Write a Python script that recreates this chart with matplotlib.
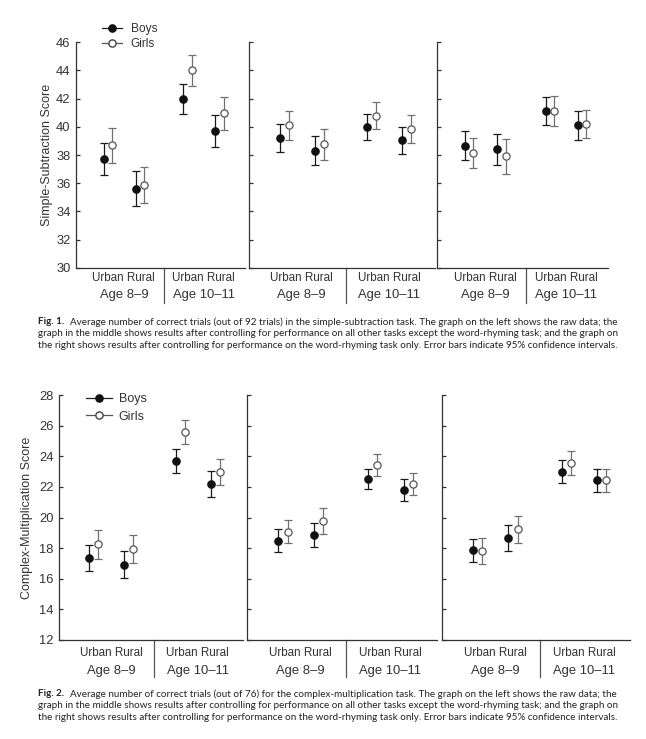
import numpy as np
import matplotlib
matplotlib.use("Agg")
import matplotlib.pyplot as plt
from matplotlib.lines import Line2D
from matplotlib.text import Annotation

plt.rcParams['font.family'] = ['Liberation Sans', 'DejaVu Sans']

# ---------------- data ----------------
groups = ["Urban", "Rural", "Urban", "Rural"]
age_labels = ["Age 8\u20139", "Age 10\u201311"]
series_labels = ["Boys", "Girls"]

# Simple subtraction (order: urban 8-9, rural 8-9, urban 10-11, rural 10-11)
sub_boys_raw = [37.7, 35.6, 42.0, 39.7]
sub_boys_raw_ci = [1.13, 1.23, 1.07, 1.13]
sub_girls_raw = [38.7, 35.85, 44.0, 40.95]
sub_girls_raw_ci = [1.25, 1.29, 1.10, 1.15]
sub_boys_ctrl = [39.2, 38.3, 40.0, 39.05]
sub_boys_ctrl_ci = [0.98, 1.03, 0.90, 0.96]
sub_girls_ctrl = [40.1, 38.75, 40.8, 39.85]
sub_girls_ctrl_ci = [1.04, 1.07, 0.95, 0.98]
sub_boys_rhy = [38.65, 38.4, 41.1, 40.1]
sub_boys_rhy_ci = [1.03, 1.10, 0.99, 1.05]
sub_girls_rhy = [38.15, 37.9, 41.1, 40.2]
sub_girls_rhy_ci = [1.09, 1.24, 1.06, 1.02]

# Complex multiplication
mul_boys_raw = [17.35, 16.92, 23.67, 22.2]
mul_boys_raw_ci = [0.84, 0.87, 0.78, 0.83]
mul_girls_raw = [18.25, 17.95, 25.58, 22.95]
mul_girls_raw_ci = [0.94, 0.93, 0.80, 0.84]
mul_boys_ctrl = [18.47, 18.84, 22.5, 21.77]
mul_boys_ctrl_ci = [0.75, 0.78, 0.65, 0.72]
mul_girls_ctrl = [19.08, 19.77, 23.4, 22.17]
mul_girls_ctrl_ci = [0.77, 0.88, 0.72, 0.71]
mul_boys_rhy = [17.86, 18.68, 23.0, 22.43]
mul_boys_rhy_ci = [0.76, 0.84, 0.74, 0.77]
mul_girls_rhy = [17.8, 19.23, 23.56, 22.43]
mul_girls_rhy_ci = [0.84, 0.89, 0.78, 0.75]

sub_ticks = [30, 32, 34, 36, 38, 40, 42, 44, 46]
mul_ticks = [12, 14, 16, 18, 20, 22, 24, 26, 28]

caption1 = ["Average number of correct trials (out of 92 trials) in the simple-subtraction task. The graph on the left shows the raw data; the",
            "graph in the middle shows results after controlling for performance on all other tasks except the word-rhyming task; and the graph on",
            "the right shows results after controlling for performance on the word-rhyming task only. Error bars indicate 95% confidence intervals."]
caption2 = ["Average number of correct trials (out of 76) for the complex-multiplication task. The graph on the left shows the raw data; the",
            "graph in the middle shows results after controlling for performance on all other tasks except the word-rhyming task; and the graph on",
            "the right shows results after controlling for performance on the word-rhyming task only. Error bars indicate 95% confidence intervals."]

# ---------------- layout ----------------
W, H = 646, 739
fig = plt.figure(figsize=(W / 100, H / 100), dpi=100)

BOY_C = "#1a1a1a"
GIRL_C = "#707070"
SPINE_C = "#333333"
pos = np.array([0, 1, 2.5, 3.5])
off = 0.13
PX = 0.72  # points per pixel


def add_axes_px(l, r, top, bottom):
    return fig.add_axes([l / W, 1 - bottom / H, (r - l) / W, (bottom - top) / H])


def draw_panel(ax, boys, boys_ci, girls, girls_ci, ticks, show_labels,
               ul_off, age_off, div_len, ylabel=None, ylabel_x=None):
    ax.errorbar(pos - off, boys, yerr=boys_ci, fmt='o', color=BOY_C, ecolor=BOY_C,
                elinewidth=0.9, capsize=2.6, capthick=0.9, markersize=5.2,
                markerfacecolor="#111111", markeredgecolor="#111111", zorder=3)
    ax.errorbar(pos + off, girls, yerr=girls_ci, fmt='o', color=GIRL_C, ecolor=GIRL_C,
                elinewidth=0.9, capsize=2.6, capthick=0.9, markersize=5.2,
                markerfacecolor="white", markeredgecolor="#555555", markeredgewidth=0.9,
                zorder=4)
    ax.set_xlim(-1.0, 4.3)
    ax.set_ylim(ticks[0], ticks[-1])
    ax.set_yticks(ticks)
    ax.set_xticks([])
    for s in ["top", "right"]:
        ax.spines[s].set_visible(False)
    for s in ["left", "bottom"]:
        ax.spines[s].set_color(SPINE_C)
        ax.spines[s].set_linewidth(0.9)
    ax.tick_params(axis='y', direction='in', length=3, width=0.9, color=SPINE_C,
                   pad=4, labelsize=9.3, labelcolor="#333333", labelleft=show_labels)
    # category labels
    for c, age in zip([0.5, 3.0], age_labels):
        ax.annotate("Urban Rural", xy=(c, 0), xycoords=('data', 'axes fraction'),
                    xytext=(0, -ul_off * PX), textcoords='offset points',
                    ha='center', va='center', fontsize=8.4, color="#333333",
                    annotation_clip=False)
        ax.annotate(age, xy=(c, 0), xycoords=('data', 'axes fraction'),
                    xytext=(0, -age_off * PX), textcoords='offset points',
                    ha='center', va='center', fontsize=9.4, color="#333333",
                    annotation_clip=False)
    # divider between age groups
    frac = div_len / (ax.get_position().height * H)
    ax.plot([1.75, 1.75], [0, -frac], transform=ax.get_xaxis_transform(),
            color="#555555", lw=0.9, clip_on=False)
    if ylabel:
        ax.set_ylabel(ylabel, fontsize=9, color="#333333")
        ax.yaxis.set_label_coords(ylabel_x, 0.5)


# Figure 1 panels
top_x = [(76, 245), (249, 435), (437, 608)]
sub_sets = [(sub_boys_raw, sub_boys_raw_ci, sub_girls_raw, sub_girls_raw_ci),
            (sub_boys_ctrl, sub_boys_ctrl_ci, sub_girls_ctrl, sub_girls_ctrl_ci),
            (sub_boys_rhy, sub_boys_rhy_ci, sub_girls_rhy, sub_girls_rhy_ci)]
top_axes = []
for i, ((l, r), d) in enumerate(zip(top_x, sub_sets)):
    ax = add_axes_px(l, r, 42.3, 267.7)
    draw_panel(ax, *d, sub_ticks, i == 0, 10, 27, 35,
               ylabel="Simple-Subtraction Score" if i == 0 else None,
               ylabel_x=-(76 - 53) / (r - l))
    top_axes.append(ax)

# Figure 2 panels
bot_x = [(59, 243), (247, 437), (442, 630)]
mul_sets = [(mul_boys_raw, mul_boys_raw_ci, mul_girls_raw, mul_girls_raw_ci),
            (mul_boys_ctrl, mul_boys_ctrl_ci, mul_girls_ctrl, mul_girls_ctrl_ci),
            (mul_boys_rhy, mul_boys_rhy_ci, mul_girls_rhy, mul_girls_rhy_ci)]
bot_axes = []
for i, ((l, r), d) in enumerate(zip(bot_x, mul_sets)):
    ax = add_axes_px(l, r, 395, 640)
    draw_panel(ax, *d, mul_ticks, i == 0, 13, 31, 37,
               ylabel="Complex-Multiplication Score" if i == 0 else None,
               ylabel_x=-(59 - 33) / (r - l))
    bot_axes.append(ax)


def legend_handles():
    return [Line2D([], [], color="#222222", lw=0.9, marker='o', markersize=5.2,
                   markerfacecolor="#111111", markeredgecolor="#111111"),
            Line2D([], [], color="#555555", lw=0.9, marker='o', markersize=5.2,
                   markerfacecolor="white", markeredgecolor="#444444")]


fig.legend(legend_handles(), series_labels, loc='upper left',
           bbox_to_anchor=(102 / W, 1 - 23 / H), frameon=False, fontsize=8.6,
           handlelength=1.65, handletextpad=0.75, labelspacing=0.25,
           borderpad=0, borderaxespad=0, labelcolor="#333333")
fig.legend(legend_handles(), series_labels, loc='upper left',
           bbox_to_anchor=(86 / W, 1 - 393 / H), frameon=False, fontsize=9,
           handlelength=2.1, handletextpad=0.5, labelspacing=0.45,
           borderpad=0, borderaxespad=0, labelcolor="#333333")


# captions
def caption(label, lines, ys):
    cap_font = dict(family=['Lato', 'DejaVu Sans'], fontsize=7.15, color="#222222")
    t = fig.text(38 / W, 1 - ys[0] / H, label, fontweight='bold', va='center', **cap_font)
    a = Annotation(lines[0], xy=(1, 0.5), xycoords=t, xytext=(4, 0),
                   textcoords='offset points', va='center', ha='left', **cap_font)
    fig.add_artist(a)
    for ln, y in zip(lines[1:], ys[1:]):
        fig.text(38 / W, 1 - y / H, ln, va='center', **cap_font)


caption("Fig. 1.", caption1, [322, 334, 346])
caption("Fig. 2.", caption2, [694, 706, 718])

fig.savefig("out.png", dpi=100)
